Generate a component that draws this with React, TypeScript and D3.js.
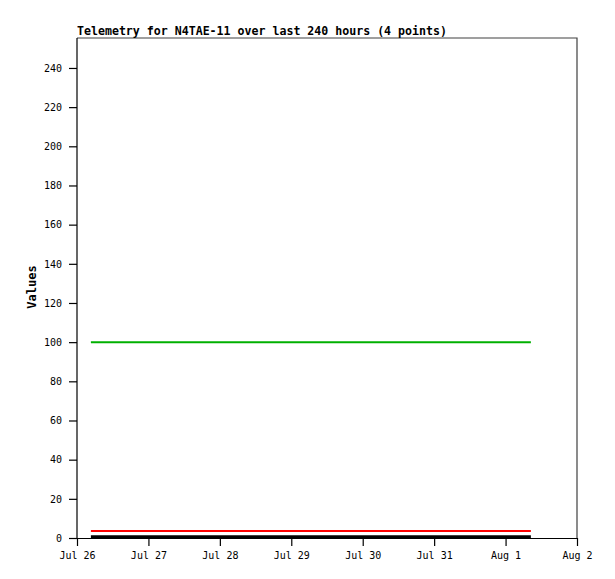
import React, { useEffect, useRef } from "react";
import * as d3 from "d3";

const W = 615;
const H = 579;
const margin = { top: 38, right: 38, bottom: 41, left: 77 };

// sample times (UTC) of the 4 telemetry points
const times = [
  "2023-07-26T04:40:00Z",
  "2023-07-28T10:00:00Z",
  "2023-07-30T16:00:00Z",
  "2023-08-01T08:30:00Z",
];

const seriesNames = ["ch1", "ch2", "ch3"];
const seriesColors = ["#00b000", "#ff0000", "#000000"];
const seriesWidths = [2, 2, 3];
const ch1 = [100, 100, 100, 100];
const ch2 = [3.6, 3.6, 3.6, 3.6];
const ch3 = [0.6, 0.6, 0.6, 0.6];
const seriesValues = [ch1, ch2, ch3];

const yTicks = [0, 20, 40, 60, 80, 100, 120, 140, 160, 180, 200, 220, 240];
const xStart = "2023-07-26T00:00:00Z";
const xEnd = "2023-08-02T00:00:00Z";

const title = "Telemetry for N4TAE-11 over last 240 hours (4 points)";
const yLabel = "Values";

const mono = "'DejaVu Sans Mono', 'Liberation Mono', monospace";

export default function App() {
  const ref = useRef<SVGSVGElement>(null);

  useEffect(() => {
    const svg = d3.select(ref.current!);
    svg.selectAll("*").remove();

    const iw = W - margin.left - margin.right;
    const ih = H - margin.top - margin.bottom;

    const x = d3
      .scaleUtc()
      .domain([new Date(xStart), new Date(xEnd)])
      .range([0, iw]);
    const y = d3.scaleLinear().domain([0, 255.3]).range([ih, 0]);

    const g = svg
      .append("g")
      .attr("transform", `translate(${margin.left},${margin.top})`);

    // frame: top and right borders in gray
    g.append("path")
      .attr("d", `M0,0H${iw}V${ih}`)
      .attr("fill", "none")
      .attr("stroke", "#404040")
      .attr("stroke-width", 1.2);

    // data lines
    const dates = times.map((t) => new Date(t));
    const line = d3
      .line<number>()
      .x((_, i) => x(dates[i]))
      .y((d) => y(d));

    seriesNames.forEach((name, si) => {
      g.append("path")
        .attr("class", name)
        .datum(seriesValues[si])
        .attr("d", line)
        .attr("fill", "none")
        .attr("stroke", seriesColors[si])
        .attr("stroke-width", seriesWidths[si]);
    });

    // y axis
    const yAxis = g
      .append("g")
      .call(
        d3
          .axisLeft(y)
          .tickValues(yTicks)
          .tickSize(8)
          .tickPadding(7)
          .tickSizeOuter(0)
      );
    yAxis.select(".domain").attr("d", `M0,${ih + 0.5}V0`);

    // x axis
    const xAxis = g
      .append("g")
      .attr("transform", `translate(0,${ih})`)
      .call(
        d3
          .axisBottom(x)
          .ticks(d3.utcDay.every(1))
          .tickFormat((d) => d3.utcFormat("%b %-d")(d as Date))
          .tickSize(8)
          .tickPadding(6)
          .tickSizeOuter(0)
      );

    [yAxis, xAxis].forEach((a) => {
      a.selectAll("text")
        .attr("font-family", mono)
        .attr("font-size", 10)
        .attr("fill", "#000");
      a.selectAll("line").attr("stroke", "#000").attr("stroke-width", 1.2);
      a.select(".domain").attr("stroke", "#000").attr("stroke-width", 1.2);
    });

    // title
    svg
      .append("text")
      .attr("x", margin.left)
      .attr("y", 35)
      .attr("font-family", mono)
      .attr("font-weight", "bold")
      .attr("font-size", 11.6)
      .text(title);

    // y label
    svg
      .append("text")
      .attr("transform", `translate(36,${margin.top + ih / 2 - 1}) rotate(-90)`)
      .attr("text-anchor", "middle")
      .attr("font-family", mono)
      .attr("font-weight", "bold")
      .attr("font-size", 12)
      .text(yLabel);
  }, []);

  return (
    <svg
      ref={ref}
      width={W}
      height={H}
      style={{ position: "absolute", left: 0, top: 0, background: "#fff" }}
    />
  );
}
